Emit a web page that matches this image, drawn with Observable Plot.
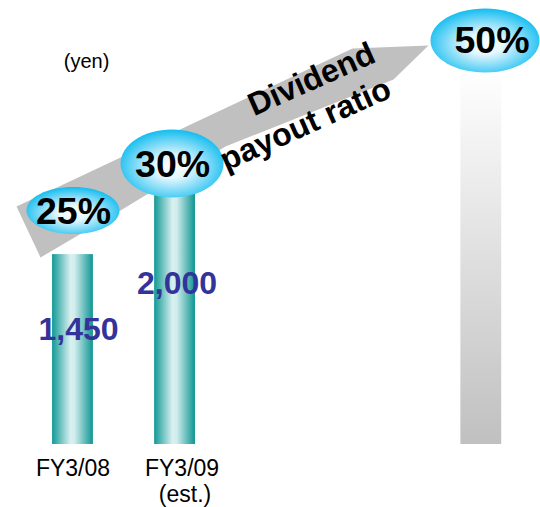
<!DOCTYPE html>
<html>
<head>
<meta charset="utf-8">
<script src="https://cdn.jsdelivr.net/npm/d3@7"></script>
<script src="https://cdn.jsdelivr.net/npm/@observablehq/plot@0.6"></script>
<style>
  html, body { margin: 0; padding: 0; background: #ffffff; }
  #chart { width: 540px; height: 507px; overflow: hidden; }
</style>
</head>
<body>
<div id="chart"></div>
<script>
// ---- data ----
const categories = ["FY3/08", "FY3/09", ""];
const subLabels = ["", "(est.)", ""];
const positions = [0, 1, 4];              // slot on the x axis
const dividends = [1450, 2000, 2870];     // yen per share (third bar unlabeled, estimated)
const valueLabels = ["1,450", "2,000", ""];
const payoutRatios = ["25%", "30%", "50%"];
const unitLabel = "(yen)";
const arrowLines = ["Dividend", "payout ratio"];
// arrow outline in data space (x slot, yen)
const arrowX = [-0.553, 2.738, 3.483, 3.140, 1.494, 0.466, -0.318];
const arrowY = [1817, 3024, 3046, 2787, 2275, 1787, 1428];
// anchors of the two arrow text lines in data space
const arrowLabelX = [2.337, 2.278];
const arrowLabelY = [2787, 2443];

// ---- styles / layout ----
const FONT = "'Liberation Sans', Arial, Helvetica, sans-serif";
const ratioLayout = [
  {dx: 0, dy: -44, rx: 46.5, ry: 23.5, tdx: 0.5, tdy: -43},
  {dx: -3, dy: -19, rx: 51.5, ry: 34, tdx: -2.5, tdy: -17.6},
  {dx: 3.7, dy: -28, rx: 54.5, ry: 32, tdx: 10.7, tdy: -27.6}
];
const valueLayout = [{dx: 5.5, dy: 75.5}, {dx: 2, dy: 101}, {dx: 0, dy: 0}];
const catLayout = [{dx: 0}, {dx: 7}, {dx: 0}];

function ellipseSymbol(rx, ry) {
  const k = 0.5523;
  return {
    draw(ctx) {
      const kx = rx * k, ky = ry * k;
      ctx.moveTo(-rx, 0);
      ctx.bezierCurveTo(-rx, -ky, -kx, -ry, 0, -ry);
      ctx.bezierCurveTo(kx, -ry, rx, -ky, rx, 0);
      ctx.bezierCurveTo(rx, ky, kx, ry, 0, ry);
      ctx.bezierCurveTo(-kx, ry, -rx, ky, -rx, 0);
      ctx.closePath();
    }
  };
}

const idx = d3.range(categories.length);
const arrowPts = arrowX.map((x, i) => ({x, y: arrowY[i]}));

const marks = [];
// bars
marks.push(Plot.rect(idx.filter(i => valueLabels[i] !== ""), {
  x1: i => positions[i] - 0.2, x2: i => positions[i] + 0.2,
  y1: () => 0, y2: i => dividends[i], fill: "url(#barTeal)"
}));
marks.push(Plot.rect(idx.filter(i => valueLabels[i] === ""), {
  x1: i => positions[i] - 0.2, x2: i => positions[i] + 0.2,
  y1: () => 0, y2: i => dividends[i], fill: "url(#barGrey)"
}));
// arrow
marks.push(Plot.line(arrowPts, {x: "x", y: "y", fill: "#c0c0c0", stroke: "none"}));
// ellipses + ratio labels
idx.forEach(i => {
  const L = ratioLayout[i];
  marks.push(Plot.dot([i], {
    x: j => positions[j], y: j => dividends[j], dx: L.dx, dy: L.dy,
    symbol: ellipseSymbol(L.rx, L.ry), fill: "url(#ellGrad)", stroke: "none"
  }));
  marks.push(Plot.text([i], {
    x: j => positions[j], y: j => dividends[j], dx: L.tdx, dy: L.tdy,
    text: j => payoutRatios[j], fontSize: 37.5, fontWeight: "bold", fill: "#000000",
    textAnchor: "middle", lineAnchor: "middle"
  }));
});
// value labels
idx.filter(i => valueLabels[i] !== "").forEach(i => {
  const L = valueLayout[i];
  marks.push(Plot.text([i], {
    x: j => positions[j], y: j => dividends[j], dx: L.dx, dy: L.dy,
    text: j => valueLabels[j], fontSize: 32, fontWeight: "bold", fill: "#333399",
    textAnchor: "middle", lineAnchor: "middle"
  }));
});
// category labels
idx.filter(i => categories[i] !== "").forEach(i => {
  marks.push(Plot.text([i], {
    x: j => positions[j], y: () => 0, dx: catLayout[i].dx, dy: 24,
    text: j => categories[j], fontSize: 23, fill: "#000000",
    textAnchor: "middle", lineAnchor: "middle"
  }));
});
idx.filter(i => subLabels[i] !== "").forEach(i => {
  marks.push(Plot.text([i], {
    x: j => positions[j], y: () => 0, dx: 10, dy: 50.5,
    text: j => subLabels[j], fontSize: 23, fill: "#000000",
    textAnchor: "middle", lineAnchor: "middle"
  }));
});
// arrow label (two lines)
marks.push(Plot.text(d3.range(arrowLines.length), {
  x: i => arrowLabelX[i], y: i => arrowLabelY[i], text: i => arrowLines[i],
  rotate: -24, fontSize: 32, fontWeight: "bold", fill: "#000000",
  textAnchor: "middle", lineAnchor: "middle"
}));
// unit label
marks.push(Plot.text([unitLabel], {
  frameAnchor: "top-left", dx: 86, dy: 61, text: d => d,
  fontSize: 20, fill: "#000000", textAnchor: "middle", lineAnchor: "middle"
}));

const svg = Plot.plot({
  width: 540,
  height: 507,
  marginLeft: 0, marginRight: 0, marginTop: 0, marginBottom: 63,
  x: {domain: [-0.71, 4.58], axis: null},
  y: {domain: [0, 3390], axis: null},
  style: {fontFamily: FONT, background: "#ffffff", overflow: "visible"},
  marks
});

const defs = d3.select(svg).insert("defs", ":first-child");
const teal = defs.append("linearGradient").attr("id", "barTeal")
  .attr("x1", "0").attr("y1", "0").attr("x2", "1").attr("y2", "0");
[[0, "#119996"], [0.45, "#d8f0f0"], [0.55, "#d2eded"], [1, "#0d9591"]].forEach(([o, c]) =>
  teal.append("stop").attr("offset", o).attr("stop-color", c));
const grey = defs.append("linearGradient").attr("id", "barGrey")
  .attr("x1", "0").attr("y1", "0").attr("x2", "0").attr("y2", "1");
[[0, "#ffffff"], [1, "#c0c0c0"]].forEach(([o, c]) =>
  grey.append("stop").attr("offset", o).attr("stop-color", c));
const ell = defs.append("radialGradient").attr("id", "ellGrad")
  .attr("cx", "0.5").attr("cy", "0.55").attr("r", "0.55");
[[0, "#ffffff"], [0.3, "#e4f7fe"], [0.7, "#6fd6f6"], [1, "#12bdf0"]].forEach(([o, c]) =>
  ell.append("stop").attr("offset", o).attr("stop-color", c));

document.getElementById("chart").appendChild(svg);
</script>
</body>
</html>
